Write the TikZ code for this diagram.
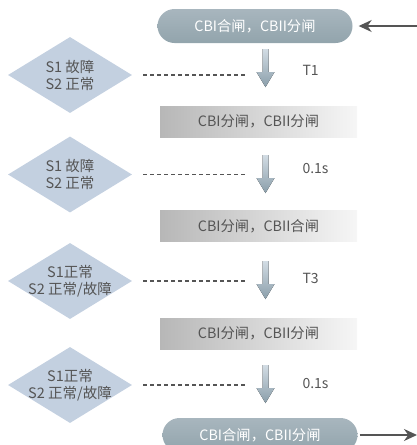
\documentclass[tikz,border=0pt]{standalone}
\usepackage{fontspec}
\setmainfont{Noto Sans CJK SC}
\usetikzlibrary{arrows.meta,shapes,calc}
\definecolor{pilltop}{RGB}{168,182,190}
\definecolor{pillgray}{RGB}{146,164,172}
\definecolor{condblue}{RGB}{195,208,224}
\definecolor{textgray}{RGB}{85,85,85}
\definecolor{boxdark}{RGB}{183,183,183}
\definecolor{boxlight}{RGB}{246,246,246}
\definecolor{steptop}{RGB}{210,220,228}
\definecolor{stepbot}{RGB}{138,158,170}

\begin{document}
\begin{tikzpicture}[x=1pt, y=-1pt,
    pill/.style={rectangle, rounded corners=17pt, minimum width=195pt, minimum height=34pt, top color=pilltop, bottom color=pillgray, text=white, font=\fontsize{14.3}{16}\selectfont},
    state/.style={rectangle, minimum width=197pt, minimum height=31pt, left color=boxdark, right color=boxlight, text=textgray, font=\fontsize{14.3}{16}\selectfont},
    cond/.style={diamond, fill=condblue, minimum width=124pt, minimum height=76pt, inner sep=0pt},
    condtext/.style={align=center, text=textgray, font=\fontsize{14.5}{17}\selectfont},
    delay/.style={text=textgray, font=\fontsize{14}{16}\selectfont},
    link/.style={line width=1.2pt, textgray, dash pattern=on 4pt off 3pt},
    arrow/.style={-{Stealth[length=13pt,width=12pt]}, line width=1.4pt, textgray},
    stepshade/.style={top color=steptop, bottom color=stepbot}
]
\useasboundingbox (0,0) rectangle (417,445);

% Breaker states
\node[pill] (p1) at (255,26) {CBI合闸，CBII分闸};
\node[state] (s1) at (258.5,121.5) {CBI分闸，CBII分闸};
\node[state] (s2) at (258.5,226) {CBI分闸，CBII合闸};
\node[state] (s3) at (258.5,333.5) {CBI分闸，CBII分闸};
\node[pill] (p2) at (260,435) {CBI合闸，CBII分闸};

% Conditions
\node[cond, label={[condtext]center:S1 故障\\S2 正常}] (c1) at (70,75) {};
\node[cond, label={[condtext]center:S1 故障\\S2 正常}] (c2) at (70,174.5) {};
\node[cond, label={[condtext]center:S1正常\\S2 正常/故障}] (c3) at (70,281) {};
\node[cond, label={[condtext]center:S1正常\\S2 正常/故障}] (c4) at (70,385) {};

% Steps
\foreach \y/\t/\ty/\i in {49/T1/70/1, 155/0.1s/169/2, 261/T3/278/3, 365/0.1s/384/4} {
    \fill[stepshade] (262.5,\y) -- (268.5,\y) -- (268.5,\y+23) -- (274.5,\y+23)
        -- (265.5,\y+38) -- (256.5,\y+23) -- (262.5,\y+23) -- cycle;
    \coordinate (e\i) at ([xshift=113pt]c\i.east);
    \node[delay, anchor=west] (t\i) at (299,\ty) {\t};
    \draw[link] ([xshift=11pt]c\i.east) -- (e\i);
}

% In and out
\coordinate (in) at (417,26);
\coordinate (out) at (417,435);
\draw[arrow, shorten >=6pt] (in) -- (p1);
\draw[arrow, shorten <=2pt] (p2) -- (out);

\end{tikzpicture}
\end{document}
